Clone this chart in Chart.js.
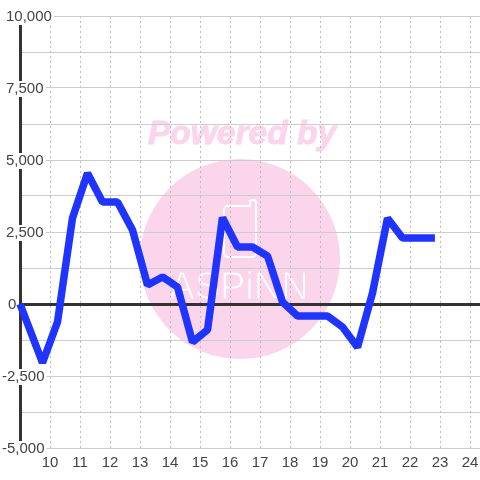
<!DOCTYPE html>
<html>
<head>
<meta charset="utf-8">
<style>
	html, body { margin: 0; padding: 0; background: #fff; }
	canvas { display: block; }
</style>
<script src="https://cdn.jsdelivr.net/npm/chart.js@4"></script>
</head>
<body>
<canvas id="chart" width="480" height="480"></canvas>
<script>
// hours of the day, half hour samples
const hours = [9, 9.75, 10.25, 10.75, 11.25, 11.75, 12.25, 12.75, 13.25, 13.75, 14.25, 14.75, 15.25, 15.75, 16.25, 16.75, 17.25, 17.75, 18.25, 18.75, 19.25, 19.75, 20.25, 20.75, 21.25, 21.75, 22.25, 22.83];
const values = [0, -2040, -625, 2986, 4540, 3540, 3540, 2570, 660, 940, 590, -1320, -900, 3000, 1980, 1980, 1670, 70, -417, -417, -417, -800, -1500, 380, 2980, 2290, 2290, 2290];
const yTicks = [10000, 7500, 5000, 2500, 0, -2500, -5000];

const gridColor = "#cccccc";
const axisColor = "#333333";
const labelColor = "#444444";
const labelFont = "15px 'Liberation Sans'";

// pink watermark sits under the grid
const watermark = {
	id: "watermark",
	beforeDraw(chart) {
		const ctx = chart.ctx;
		ctx.save();
		ctx.fillStyle = "#fbd5ec";
		ctx.beginPath();
		ctx.arc(240, 259, 100, 0, Math.PI * 2);
		ctx.fill();
		ctx.font = "italic bold 33.5px 'Liberation Sans'";
		ctx.textAlign = "center";
		ctx.textBaseline = "middle";
		ctx.strokeStyle = "#fbd5ec";
		ctx.lineWidth = 1;
		ctx.fillText("Powered by", 242, 135);
		ctx.strokeText("Powered by", 242, 135);

		// phone shape
		ctx.strokeStyle = "#ffffff";
		ctx.lineWidth = 2;
		ctx.beginPath();
		ctx.moveTo(250, 206);
		ctx.lineTo(250, 202);
		ctx.arcTo(250, 200, 253, 200, 2);
		ctx.arcTo(256, 200, 256, 204, 3);
		ctx.arcTo(256, 257, 224, 257, 4);
		ctx.arcTo(224, 257, 224, 206, 4);
		ctx.arcTo(224, 206, 250, 206, 4);
		ctx.closePath();
		ctx.stroke();

		// thin white letters: filled, then eaten back with the circle colour
		ctx.font = "38px 'Liberation Sans'";
		ctx.fillStyle = "#ffffff";
		ctx.fillText("ASPiNN", 239, 289);
		ctx.strokeStyle = "#fbd5ec";
		ctx.lineWidth = 1;
		ctx.strokeText("ASPiNN", 239, 289);
		ctx.restore();
	},
};

// y labels have a white box behind them that cuts the grid and the axis
const yLabels = {
	id: "yLabels",
	beforeDatasetsDraw(chart) {
		const ctx = chart.ctx;
		const y = chart.scales.y;
		ctx.save();
		ctx.font = labelFont;
		ctx.textBaseline = "middle";
		ctx.textAlign = "left";
		yTicks.forEach(function (tick) {
			const text = tick.toLocaleString("en-US");
			const width = ctx.measureText(text).width;
			const left = tick < 0 ? 2 : tick === 0 ? 8 : 6;
			const py = y.getPixelForValue(tick) + 1;
			ctx.fillStyle = "#ffffff";
			ctx.fillRect(left - 1, py - 8, width + 3, 16);
			ctx.fillStyle = labelColor;
			ctx.fillText(text, left, py);
		});
		ctx.restore();
	},
};

new Chart(document.getElementById("chart"), {
	type: "line",
	data: {
		datasets: [
			{
				data: hours.map(function (h, i) { return { x: h, y: values[i] }; }),
				borderColor: "#1f35ff",
				borderWidth: 7.5,
				borderJoinStyle: "bevel",
				borderCapStyle: "butt",
				pointRadius: 0,
				tension: 0,
				clip: false,
			},
		],
	},
	options: {
		responsive: false,
		animation: false,
		layout: { autoPadding: false, padding: { left: 20, top: 16, right: 0, bottom: 0 } },
		plugins: { legend: { display: false }, tooltip: { enabled: false } },
		scales: {
			x: {
				type: "linear",
				min: 9,
				max: 24.3333,
				grid: {
					color: "#bbbbbb",
					lineWidth: 1,
					drawTicks: false,
				},
				border: { display: false, dash: [2, 3] },
				ticks: {
					stepSize: 1,
					autoSkip: false,
					maxRotation: 0,
					includeBounds: false,
					padding: 6,
					color: labelColor,
					font: { family: "'Liberation Sans'", size: 15 },
					callback: function (v) { return v === 9 ? "" : String(v); },
				},
				afterFit: function (scale) {
					scale.height = 32;
					// label of the last tick should not pull the plot in from the right
					scale.paddingLeft = 0;
					scale.paddingRight = 0;
				},
			},
			y: {
				min: -5000,
				max: 10000,
				grid: {
					drawTicks: false,
					color: function (c) { return c.tick.value === 0 ? axisColor : gridColor; },
					lineWidth: function (c) { return c.tick.value === 0 ? 3 : 1; },
				},
				border: { color: axisColor, width: 3 },
				ticks: { stepSize: 1250, display: false },
				afterFit: function (scale) { scale.width = 0; },
			},
		},
	},
	plugins: [watermark, yLabels],
});
</script>
</body>
</html>
